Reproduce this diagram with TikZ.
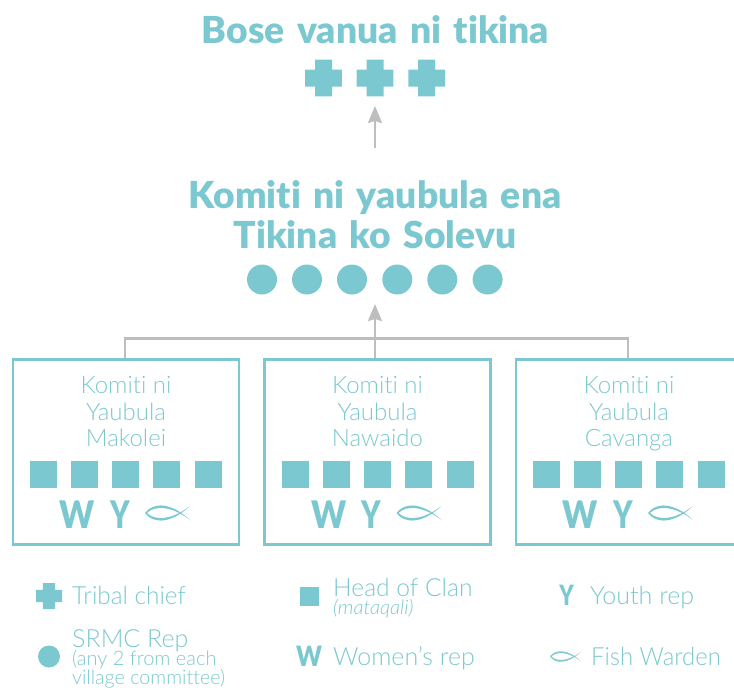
\documentclass[tikz,border=0pt]{standalone}
\usepackage{fontspec}
\usepackage{graphicx}
\setmainfont[Ligatures=NoCommon]{Lato Light}
\newfontfamily\blackf[WordSpace=1.45,Ligatures=NoCommon,RawFeature={-liga;-dlig;-calt}]{Lato Black}
\newfontfamily\lightit[Ligatures=NoCommon]{Lato Light Italic}
\definecolor{teal1}{HTML}{7BC8D0}
\definecolor{grey1}{HTML}{BEBEBE}
\usetikzlibrary{arrows.meta}
\tikzset{
  titletext/.style={text=teal1,inner sep=0pt,align=center,font=\blackf\fontsize{37.2}{40}\selectfont},
  boxtext/.style={text=teal1,inner sep=0pt,anchor=base,font=\fontsize{24}{26}\selectfont},
  legtext/.style={text=teal1,inner sep=0pt,anchor=base west,font=\fontsize{25}{25}\selectfont},
  legsmall/.style={text=teal1,inner sep=0pt,anchor=base west,font=\fontsize{20}{20}\selectfont},
  letter/.style={text=teal1,inner sep=0pt,anchor=base,font=\blackf\fontsize{38}{38}\selectfont},
  smletter/.style={text=teal1,inner sep=0pt,anchor=base,font=\blackf\fontsize{28}{28}\selectfont},
  frame/.style={draw=teal1,line width=2.7pt,minimum width=226pt,minimum height=184.5pt,inner sep=0pt},
  sq/.style={fill=teal1,minimum size=27pt,inner sep=0pt},
  dot/.style={circle,fill=teal1,minimum size=30pt,inner sep=0pt},
  conn/.style={draw=grey1,line width=2.5pt},
  arr/.style={conn,-{Stealth[length=17pt,width=14pt,inset=2pt]}},
}
\newcommand{\crossicon}[4]{% x y half-size arm-half
  \fill[teal1] (#1-#4,#2-#3) -- (#1+#4,#2-#3) -- (#1+#4,#2-#4) -- (#1+#3,#2-#4) -- (#1+#3,#2+#4) -- (#1+#4,#2+#4) -- (#1+#4,#2+#3) -- (#1-#4,#2+#3) -- (#1-#4,#2+#4) -- (#1-#3,#2+#4) -- (#1-#3,#2-#4) -- (#1-#4,#2-#4) -- cycle;}
\newcommand{\fishicon}[3]{% left-x mid-y scale (1 = 45 px long)
  \begin{scope}[shift={(#1,#2)},x=#3pt,y=-#3pt]
    \fill[teal1] (0,0) .. controls (8,-11) and (26,-11) .. (45,7)
      .. controls (27,-7) and (10,-8) .. (2,0)
      .. controls (10,8) and (27,7) .. (45,-7)
      .. controls (26,11) and (8,11) .. (0,0) -- cycle;
  \end{scope}}
\begin{document}
\begin{tikzpicture}[x=1pt,y=-1pt]
\useasboundingbox (0,0) rectangle (734,689);
\clip (0,0) rectangle (734,689);
% titles
\node[titletext] (t1) at (375.5,30) {Bose vanua ni tikina};
\node[titletext] (t2) at (375,214.5) {Komiti ni yaubula ena\\Tikina ko Solevu};
% crosses
\crossicon{323.5}{78}{18.3}{8.5}
\crossicon{375}{78}{18.3}{8.5}
\crossicon{426.7}{78}{18.3}{8.5}
% circles
\foreach \i/\x in {1/262,2/307,3/352,4/397.3,5/442.3,6/487.6}
  \node[dot] (d\i) at (\x,279.5) {};
% connectors (drawn below the frames)
\coordinate (tip1) at (375,106);
\coordinate (start1) at (375,148);
\coordinate (tip2) at (375,304);
\coordinate (bar) at (375,338.5);
\coordinate (dropa) at (125,360);
\coordinate (dropb) at (375,360);
\coordinate (dropc) at (628,360);
\draw[arr] (start1) -- (tip1);
\draw[arr] (dropb) -- (tip2);
\draw[conn] (dropa) |- (bar) -| (dropc);
% boxes
\foreach \n/\dx/\name in {a/0/Makolei,b/251.5/Nawaido,c/503/Cavanga}{
  \node[frame] (box\n) at (126+\dx,452) {};
  \node[boxtext] (l1\n) at (126+\dx,393) {Komiti ni};
  \node[boxtext] (l2\n) at (126+\dx,420) {Yaubula};
  \node[boxtext] (l3\n) at (126+\dx,446.7) {\name};
  \foreach \k/\sx in {1/43.5,2/84.5,3/125.5,4/166.5,5/208.5}
    \node[sq] (s\n\k) at (\sx+\dx,474.5) {};
  \node[letter] (w\n) at (77.5+\dx,528) {\scalebox{0.87}[1]{W}};
  \node[letter] (y\n) at (120+\dx,528) {\scalebox{0.77}[1]{Y}};
  \fishicon{145+\dx}{513}{1}
}
% legend
\crossicon{49}{596}{13}{6.2}
\node[legtext] (lt1) at (72,604) {\scalebox{0.975}[1]{Tribal chief}};
\node[circle,fill=teal1,minimum size=22pt,inner sep=0pt] (lc) at (49,656.5) {};
\node[legtext] (lt2) at (72,647) {SRMC Rep};
\node[legsmall] (lt3) at (72,665) {(any 2 from each};
\node[legsmall] (lt4) at (72,684) {\scalebox{0.985}[1]{village committee)}};
\node[fill=teal1,minimum size=19pt,inner sep=0pt] (ls) at (309.5,596.5) {};
\node[legtext] (lt5) at (333,596) {\scalebox{0.985}[1]{Head of Clan}};
\node[legsmall,font=\lightit\fontsize{20}{20}\selectfont] (lt6) at (333,614) {(mataqali)};
\node[smletter] (lw) at (309,666) {\scalebox{0.87}[1]{W}};
\node[legtext] (lt7) at (333,665) {Women's rep};
\node[smletter] (ly) at (566.5,605) {\scalebox{0.77}[1]{Y}};
\node[legtext] (lt8) at (590,604) {Youth rep};
\fishicon{550}{656.5}{0.69}
\node[legtext] (lt9) at (591,665) {\scalebox{0.955}[1]{Fish Warden}};
\end{tikzpicture}
\end{document}
